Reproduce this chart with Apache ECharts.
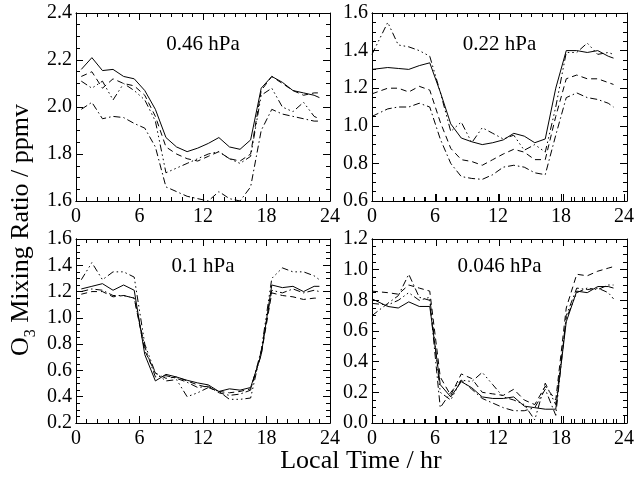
<!DOCTYPE html>
<html>
<head>
<meta charset="utf-8">
<script src="https://cdn.jsdelivr.net/npm/echarts@6/dist/echarts.min.js"></script>
<style>html,body{margin:0;padding:0;background:#fff}#c{width:637px;height:479px}</style>
</head>
<body>
<div id="c"></div>
<script>
var hoursLeft  = [0.5,1.5,2.5,3.5,4.5,5.5,6.5,7.5,8.5,9.5,10.5,11.5,12.5,13.5,14.5,15.5,16.5,17.5,18.5,19.5,20.5,21.5,22.5,23.0];
var hoursRight = [0.0,1.5,2.5,3.5,4.5,5.5,6.5,7.5,8.5,9.5,10.5,11.5,12.5,13.5,14.5,15.5,16.5,17.5,18.5,19.5,20.5,21.5,22.5,23.0];

var panelLabels = ['0.46 hPa','0.22 hPa','0.1 hPa','0.046 hPa'];
var yMins = [1.6,0.6,0.2,0.0];
var yMaxs = [2.4,1.6,1.6,1.2];

var p1Solid    = [2.16,2.21,2.155,2.16,2.13,2.12,2.07,1.99,1.87,1.83,1.81,1.825,1.845,1.87,1.83,1.82,1.86,2.08,2.13,2.105,2.07,2.06,2.05,2.04];
var p1Dash     = [2.13,2.15,2.08,2.12,2.10,2.09,2.05,1.96,1.83,1.80,1.78,1.77,1.79,1.81,1.78,1.77,1.80,2.07,2.13,2.10,2.07,2.05,2.06,2.06];
var p1DashDot  = [1.99,2.02,1.95,1.96,1.955,1.93,1.91,1.83,1.66,1.64,1.62,1.61,1.60,1.64,1.61,1.60,1.66,1.90,1.99,1.97,1.96,1.95,1.94,1.94];
var p1DashDot3 = [2.11,2.08,2.11,2.03,2.10,2.07,2.03,1.94,1.72,1.74,1.76,1.78,1.80,1.81,1.78,1.76,1.79,2.05,2.08,2.00,1.98,2.02,1.96,1.95];
var p2Solid    = [1.30,1.31,1.305,1.30,1.32,1.335,1.18,1.01,0.935,0.915,0.90,0.91,0.925,0.96,0.945,0.91,0.93,1.20,1.40,1.40,1.39,1.40,1.37,1.36];
var p2Dash     = [1.17,1.20,1.20,1.18,1.21,1.19,1.02,0.88,0.82,0.81,0.79,0.82,0.85,0.875,0.86,0.82,0.82,1.05,1.25,1.27,1.25,1.25,1.23,1.22];
var p2DashDot  = [1.05,1.09,1.10,1.10,1.12,1.10,0.93,0.80,0.73,0.72,0.715,0.74,0.78,0.79,0.78,0.75,0.74,0.95,1.15,1.175,1.15,1.14,1.12,1.10];
var p2DashDot3 = [1.38,1.55,1.43,1.42,1.40,1.37,1.18,0.97,1.02,0.91,0.99,0.96,0.93,0.95,0.87,0.90,0.86,1.10,1.39,1.39,1.44,1.38,1.39,1.38];
var p3Solid    = [1.22,1.24,1.26,1.21,1.25,1.21,0.72,0.52,0.57,0.55,0.525,0.505,0.49,0.44,0.46,0.45,0.47,0.72,1.25,1.23,1.24,1.20,1.24,1.24];
var p3Dash     = [1.18,1.20,1.20,1.16,1.17,1.15,0.75,0.58,0.54,0.55,0.52,0.49,0.47,0.44,0.43,0.44,0.46,0.72,1.19,1.17,1.16,1.14,1.15,1.15];
var p3DashDot  = [1.20,1.22,1.21,1.17,1.17,1.15,0.78,0.55,0.56,0.54,0.51,0.47,0.48,0.43,0.41,0.42,0.45,0.75,1.21,1.19,1.22,1.19,1.21,1.20];
var p3DashDot3 = [1.29,1.42,1.29,1.35,1.35,1.31,0.80,0.58,0.52,0.53,0.40,0.43,0.47,0.44,0.38,0.38,0.39,0.75,1.30,1.38,1.35,1.35,1.32,1.29];
var p4Solid    = [0.81,0.76,0.75,0.79,0.76,0.76,0.25,0.17,0.27,0.23,0.17,0.16,0.16,0.17,0.11,0.10,0.09,0.09,0.66,0.86,0.85,0.89,0.89,0.88];
var p4Dash     = [0.86,0.85,0.84,0.90,0.88,0.86,0.30,0.18,0.32,0.29,0.20,0.19,0.18,0.22,0.15,0.12,0.24,0.15,0.75,0.97,0.96,0.99,1.01,1.02];
var p4DashDot  = [0.70,0.78,0.83,0.97,0.82,0.80,0.10,0.20,0.28,0.22,0.16,0.13,0.10,0.08,0.08,0.10,0.22,0.05,0.70,0.88,0.87,0.88,0.85,0.81];
var p4DashDot3 = [0.78,0.77,0.80,0.85,0.80,0.82,0.20,0.15,0.28,0.27,0.33,0.25,0.17,0.15,0.12,0.02,0.26,0.12,0.68,0.85,0.88,0.87,0.90,0.90];

var panelData = [
  [p1Solid,p1Dash,p1DashDot,p1DashDot3],
  [p2Solid,p2Dash,p2DashDot,p2DashDot3],
  [p3Solid,p3Dash,p3DashDot,p3DashDot3],
  [p4Solid,p4Dash,p4DashDot,p4DashDot3]
];
var panelHours = [hoursLeft,hoursRight,hoursLeft,hoursRight];

var FONT = '"Liberation Serif","Times New Roman",serif';
var dashTypes = ['solid',[6,4],[7,3,1.5,3],[7,3,1.5,3,1.5,3,1.5,3]];

var boxes = [
  {left:76, top:13, width:254, height:188},
  {left:372,top:13, width:255, height:188},
  {left:76, top:239,width:254, height:184},
  {left:372,top:239,width:255, height:184}
];
var labelGaps = [-42,-42,-38,-38];

function tk(){return {show:true,inside:true,length:7,lineStyle:{color:'#000',width:1}};}
function ln(){return {show:true,onZero:false,lineStyle:{color:'#000',width:1}};}
function mx(){return {show:true,splitNumber:6,length:4,lineStyle:{color:'#000',width:1}};}
function my(){return {show:true,splitNumber:4,length:4,lineStyle:{color:'#000',width:1}};}

var grids=[], xAxes=[], yAxes=[], series=[];
// data grids 0..3
for (var p=0;p<4;p++){
  grids.push(Object.assign({},boxes[p]));
  var xi=xAxes.length, yi=yAxes.length;
  xAxes.push({type:'value',gridIndex:p,min:0,max:24,interval:6,position:'bottom',
    axisLine:ln(),axisTick:tk(),minorTick:mx(),splitLine:{show:false},
    axisLabel:{show:true,color:'#000',fontFamily:FONT,fontSize:20,margin:6}});
  yAxes.push({type:'value',gridIndex:p,min:yMins[p],max:yMaxs[p],interval:0.2,position:'left',
    axisLine:ln(),axisTick:tk(),minorTick:my(),splitLine:{show:false},
    axisLabel:{show:true,color:'#000',fontFamily:FONT,fontSize:20,margin:4,formatter:function(v){return v.toFixed(1);}}});
  for (var s=0;s<4;s++){
    var d = panelData[p][s].map(function(v,i){return [panelHours[p][i],v];});
    series.push({type:'line',xAxisIndex:xi,yAxisIndex:yi,data:d,symbol:'none',
      lineStyle:{color:'#000',width:1,type:dashTypes[s]},z:5});
  }
}
// frame grids 4..7: same boxes, no series, carry the tick frame and panel label
for (var q=0;q<4;q++){
  var g=grids.length;
  grids.push(Object.assign({},boxes[q]));
  xAxes.push({type:'value',gridIndex:g,min:0,max:24,interval:6,position:'bottom',
    axisLine:ln(),axisTick:tk(),minorTick:mx(),splitLine:{show:false},axisLabel:{show:false}});
  xAxes.push({type:'value',gridIndex:g,min:0,max:24,interval:6,position:'top',
    axisLine:ln(),axisTick:tk(),minorTick:mx(),splitLine:{show:false},axisLabel:{show:false},
    name:panelLabels[q],nameLocation:'middle',nameGap:labelGaps[q],
    nameTextStyle:{color:'#000',fontFamily:FONT,fontSize:21}});
  yAxes.push({type:'value',gridIndex:g,min:yMins[q],max:yMaxs[q],interval:0.2,position:'left',
    axisLine:ln(),axisTick:tk(),minorTick:my(),splitLine:{show:false},axisLabel:{show:false}});
  yAxes.push({type:'value',gridIndex:g,min:yMins[q],max:yMaxs[q],interval:0.2,position:'right',
    axisLine:ln(),axisTick:tk(),minorTick:my(),splitLine:{show:false},axisLabel:{show:false}});
}
// grid 8: invisible axes carrying the shared axis titles
grids.push({left:84, top:40, width:552, height:383});
xAxes.push({type:'value',gridIndex:8,min:0,max:1,axisLine:{show:false},axisTick:{show:false},
  axisLabel:{show:false},splitLine:{show:false},name:'Local Time / hr',nameLocation:'middle',nameGap:28,
  nameTextStyle:{color:'#000',fontFamily:FONT,fontSize:26}});
yAxes.push({type:'value',gridIndex:8,min:0,max:1,axisLine:{show:false},axisTick:{show:false},
  axisLabel:{show:false},splitLine:{show:false},
  name:'{a|O}{s|3}{a| Mixing Ratio / ppmv}',nameLocation:'middle',nameRotate:90,nameGap:52,
  nameTextStyle:{color:'#000',rich:{
    a:{fontFamily:FONT,fontSize:26,color:'#000',verticalAlign:'bottom'},
    s:{fontFamily:FONT,fontSize:16,color:'#000',verticalAlign:'bottom',padding:[0,0,-5,0]}}}});

var chart = echarts.init(document.getElementById('c'),null,{renderer:'canvas'});
chart.setOption({animation:false,grid:grids,xAxis:xAxes,yAxis:yAxes,series:series});
</script>
</body>
</html>
